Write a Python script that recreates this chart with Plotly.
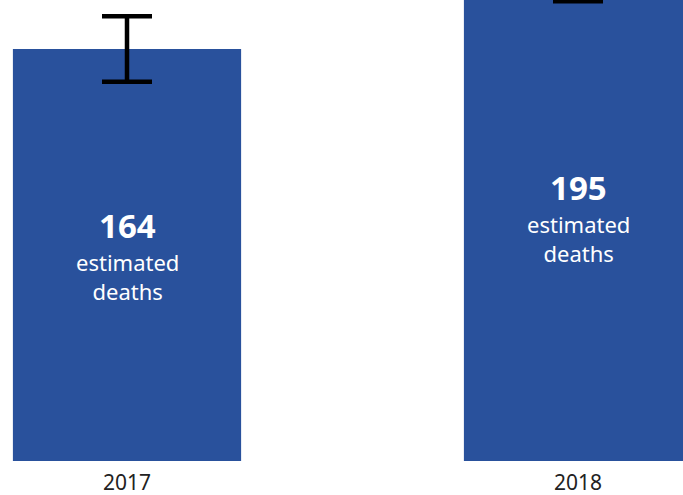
import plotly.graph_objects as go

# Estimated deaths by year, with uncertainty interval bounds
years = ["2017", "2018"]
deaths = [164, 195]
lower_bound = [151, 183]
upper_bound = [177, 208]
caption = "estimated<br>deaths"

err_plus = [u - v for u, v in zip(upper_bound, deaths)]
err_minus = [v - l for v, l in zip(deaths, lower_bound)]

Y_MAX = 183.5

fig = go.Figure(
    go.Bar(
        x=years,
        y=deaths,
        width=0.506,
        marker=dict(color="#29519C", line=dict(width=0)),
        error_y=dict(
            type="data",
            symmetric=False,
            array=err_plus,
            arrayminus=err_minus,
            color="black",
            thickness=4.5,
            width=25,
        ),
        hoverinfo="skip",
    )
)

# Value and caption centred on each bar (category positions by index)
for i, v in enumerate(deaths):
    fig.add_annotation(
        x=i, y=v / 2, xref="x", yref="y",
        text=f"<b>{v}</b>", showarrow=False, yshift=29,
        font=dict(family="Noto Sans", size=33, color="white"),
    )
    fig.add_annotation(
        x=i, y=v / 2, xref="x", yref="y",
        text=caption, showarrow=False, yshift=-22,
        font=dict(family="Noto Sans", size=22, color="white"),
    )

fig.update_layout(
    width=683,
    height=495,
    margin=dict(l=0, r=0, t=0, b=34, autoexpand=False),
    paper_bgcolor="white",
    plot_bgcolor="white",
    showlegend=False,
    font=dict(family="Noto Sans", color="#222222"),
)
fig.update_xaxes(
    type="category",
    range=[-0.2816, 1.2328],
    automargin=False,
    showgrid=False,
    showline=False,
    zeroline=False,
    ticks="",
    ticklabelstandoff=7,
    tickfont=dict(size=21, color="#222222"),
)
fig.update_yaxes(
    range=[0, Y_MAX],
    automargin=False,
    visible=False,
)

fig.write_html("out.html")
